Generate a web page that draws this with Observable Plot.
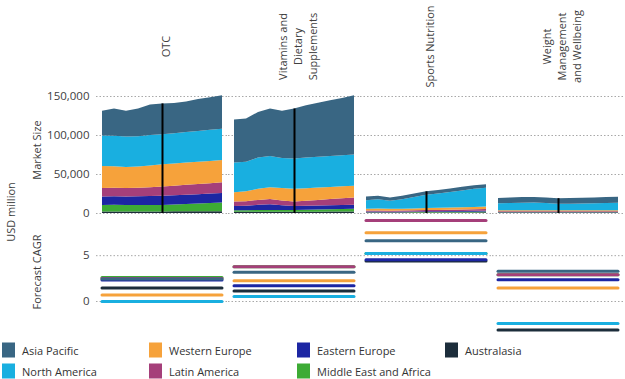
<!DOCTYPE html>
<html><head><meta charset="utf-8">
<script src="https://cdn.jsdelivr.net/npm/d3@7"></script>
<script src="https://cdn.jsdelivr.net/npm/@observablehq/plot@0.6"></script>
<style>
body{margin:0;background:#fff;font-family:"Open Sans",sans-serif;}
#wrap{position:relative;width:625px;height:379px;overflow:hidden;background:#fff;}
#topChart,#bottomChart{position:absolute;left:0;}
#topChart{top:0}
#bottomChart{top:213px}
.lab{position:absolute;white-space:nowrap;font-size:11px;color:#404040;transform:translate(-50%,-50%) rotate(-90deg);}
.leg{position:absolute;display:flex;align-items:center;font-size:11px;color:#333;transform:translateY(-50%);white-space:nowrap;}
.sw{width:13px;height:15px;margin-right:7px;}
</style></head><body>
<div id="wrap">
  <div id="topChart"></div>
  <div id="bottomChart"></div>
</div>
<script>
const categories = ["OTC", "Vitamins and Dietary Supplements", "Sports Nutrition", "Weight Management and Wellbeing"];
const categoryLabels = [["OTC"], ["Vitamins and", "Dietary", "Supplements"], ["Sports Nutrition"], ["Weight", "Management", "and Wellbeing"]];
const years = [2012, 2013, 2014, 2015, 2016, 2017, 2018, 2019, 2020, 2021, 2022];
const currentYear = 2017;
// stacking order, bottom to top
const regions = ["Australasia", "Middle East and Africa", "Eastern Europe", "Latin America", "Western Europe", "North America", "Asia Pacific"];
const regionColors = ["#1c2d3b", "#3dab35", "#1c26a3", "#a53f7a", "#f6a23b", "#19afe0", "#396683"];
const sizeTicks = [0, 50000, 100000, 150000];
const cagrTicks = [0, 5];

// Market size, USD million (rows follow regions order)
const otcSize = [
  [2000, 2000, 2000, 2000, 2000, 2000, 2100, 2100, 2200, 2200, 2300],
  [8400, 8500, 8300, 8400, 8400, 8400, 8900, 9500, 10000, 10600, 11100],
  [10900, 11000, 10900, 11200, 11400, 11600, 11700, 11800, 11900, 12100, 12200],
  [10700, 11000, 10800, 10700, 11200, 12000, 12300, 12700, 13100, 13400, 13900],
  [28400, 27500, 27000, 27200, 28000, 28600, 28600, 28500, 28500, 28500, 28300],
  [39100, 39000, 39000, 39000, 39000, 38400, 38800, 39200, 39500, 39800, 40200],
  [31500, 35000, 33000, 35500, 39000, 39500, 38600, 39200, 40800, 41900, 43000]
];
const vitaminsSize = [
  [1500, 1500, 1600, 1600, 1600, 1600, 1700, 1700, 1800, 1800, 1900],
  [2000, 2000, 2200, 2400, 2200, 2200, 2500, 2800, 3000, 3300, 3500],
  [5500, 5700, 6700, 7300, 6200, 5200, 5100, 5100, 5100, 5100, 5100],
  [5800, 6000, 6300, 6500, 6000, 5800, 6500, 7200, 7900, 8600, 9500],
  [11700, 12600, 14200, 15200, 16000, 16200, 16000, 15800, 15600, 15400, 15000],
  [38200, 37800, 40000, 40000, 38400, 39000, 39200, 39400, 39600, 39800, 40000],
  [55300, 55400, 58500, 61000, 60600, 64000, 67000, 69500, 71500, 73500, 76000]
];
const sportsSize = [
  [600, 600, 600, 600, 700, 700, 700, 800, 800, 800, 900],
  [400, 400, 400, 500, 500, 600, 700, 700, 800, 900, 900],
  [800, 800, 700, 700, 800, 900, 900, 1000, 1100, 1200, 1200],
  [1400, 1500, 1300, 1400, 1500, 1600, 1700, 1800, 1900, 2000, 2200],
  [2400, 2400, 2300, 2300, 2400, 2500, 2600, 2700, 2800, 2900, 3000],
  [10900, 11800, 10300, 12000, 14600, 17000, 18400, 20000, 21600, 23200, 24300],
  [4500, 4500, 4400, 4500, 4500, 4500, 4500, 4500, 4500, 4500, 4500]
];
const weightSize = [
  [500, 500, 500, 500, 500, 500, 500, 500, 500, 500, 500],
  [400, 400, 400, 400, 400, 400, 400, 400, 400, 400, 400],
  [500, 500, 500, 500, 500, 500, 500, 500, 500, 500, 500],
  [800, 800, 800, 800, 800, 800, 800, 800, 800, 800, 800],
  [1300, 1300, 1300, 1300, 1300, 1300, 1300, 1300, 1300, 1300, 1300],
  [9000, 9300, 9800, 10000, 9300, 8500, 8500, 8700, 9000, 9300, 9700],
  [6800, 7000, 7200, 7100, 7200, 7000, 7200, 7300, 7400, 7600, 7700]
];

// Forecast CAGR, % (follow regions order)
const otcCagr = [1.47, 2.62, 2.35, 2.5, 0.7, 0.0, 2.45];
const vitaminsCagr = [1.14, 3.8, 1.72, 3.8, 2.27, 0.55, 3.2];
const sportsCagr = [4.42, 5.25, 4.55, 8.83, 7.5, 5.25, 6.64];
const weightCagr = [-3.1, 2.92, 2.37, 2.92, 1.46, -2.4, 3.3];
// drawing order of CAGR lines (later on top)
const cagrDrawOrder = ["Middle East and Africa", "Australasia", "Latin America", "Eastern Europe", "Western Europe", "North America", "Asia Pacific"];

const sizeByCategory = [otcSize, vitaminsSize, sportsSize, weightSize];
const cagrByCategory = [otcCagr, vitaminsCagr, sportsCagr, weightCagr];

const sizeRows = [];
categories.forEach((c, ci) => sizeByCategory[ci].forEach((vals, ri) => vals.forEach((v, yi) =>
  sizeRows.push({category: c, region: regions[ri], year: years[yi], value: v}))));
const markerRows = categories.map((c, ci) => {
  const yi = years.indexOf(currentYear);
  return {category: c, year: currentYear, total: d3.sum(sizeByCategory[ci], r => r[yi])};
});
const cagrRows = [];
categories.forEach((c, ci) => cagrDrawOrder.forEach(reg =>
  cagrRows.push({category: c, region: reg, value: cagrByCategory[ci][regions.indexOf(reg)]})));
const titleRows = [];
categories.forEach((c, ci) => categoryLabels[ci].forEach((t, k, arr) =>
  titleRows.push({category: c, text: t, offset: k - (arr.length - 1) / 2})));

const font = "'Open Sans', sans-serif";
const fxOpts = {domain: categories, paddingInner: 0.09, paddingOuter: 0, axis: null};
const colorOpts = {domain: regions, range: regionColors};
const gridStyle = {stroke: "#a8a8a8", strokeDasharray: "1.5,2", strokeWidth: 1, insetLeft: -6, insetRight: -6};
const lineStep = 15;

const topPlot = Plot.plot({
  width: 625, height: 213,
  marginLeft: 100, marginRight: 5, marginTop: 96, marginBottom: 0,
  style: {fontFamily: font, fontSize: "11.5px", color: "#404040", background: "transparent", overflow: "visible"},
  fx: fxOpts,
  x: {domain: [years[0], years[years.length - 1]], axis: null},
  y: {domain: [0, 150000], ticks: sizeTicks, tickSize: 0, tickPadding: 13, label: null},
  color: colorOpts,
  marks: [
    Plot.ruleY(sizeTicks, {y: d => d, ...gridStyle}),
    Plot.areaY(sizeRows, {fx: "category", x: "year", y: "value", z: "region", fill: "region"}),
    Plot.ruleX(markerRows, {fx: "category", x: "year", y1: 0, y2: "total", stroke: "#000", strokeWidth: 2}),
    ...[-1, 0, 1].map(o => Plot.text(titleRows.filter(d => d.offset === o), {fx: "category", text: "text",
      frameAnchor: "top", dy: -50, dx: o * lineStep, rotate: -90, textAnchor: "middle",
      fontSize: 11, fill: "#404040"}))
  ]
});
document.getElementById("topChart").appendChild(topPlot);

const bottomPlot = Plot.plot({
  width: 625, height: 121,
  marginLeft: 100, marginRight: 5, marginTop: 0, marginBottom: 0,
  style: {fontFamily: font, fontSize: "11.5px", color: "#404040", background: "transparent", overflow: "visible"},
  fx: fxOpts,
  y: {domain: [-3.6, 9.6], ticks: cagrTicks, tickSize: 0, tickPadding: 13, label: null},
  color: colorOpts,
  marks: [
    Plot.ruleY(cagrTicks, {y: d => d, ...gridStyle}),
    Plot.ruleY(cagrRows, {fx: "category", y: "value", stroke: "region", strokeWidth: 3, strokeLinecap: "round"})
  ]
});
document.getElementById("bottomChart").appendChild(bottomPlot);

const wrap = document.getElementById("wrap");
function addLabel(text, x, y) {
  const d = document.createElement("div");
  d.className = "lab"; d.textContent = text;
  d.style.left = x + "px"; d.style.top = y + "px";
  wrap.appendChild(d);
}
addLabel("Market Size", 36, 150);
addLabel("Forecast CAGR", 36, 272);
addLabel("USD million", 10, 212);

// legend: column-major, 2 rows
const legendOrder = ["Asia Pacific", "North America", "Western Europe", "Latin America", "Eastern Europe", "Middle East and Africa", "Australasia"];
const legendX = [2, 149, 297, 445];
const legendY = [350, 371];
legendOrder.forEach((reg, i) => {
  const item = document.createElement("div");
  item.className = "leg";
  item.style.left = legendX[Math.floor(i / 2)] + "px";
  item.style.top = legendY[i % 2] + "px";
  const sw = document.createElement("span");
  sw.className = "sw";
  sw.style.background = regionColors[regions.indexOf(reg)];
  item.appendChild(sw);
  item.appendChild(document.createTextNode(reg));
  wrap.appendChild(item);
});
</script>
</body></html>
